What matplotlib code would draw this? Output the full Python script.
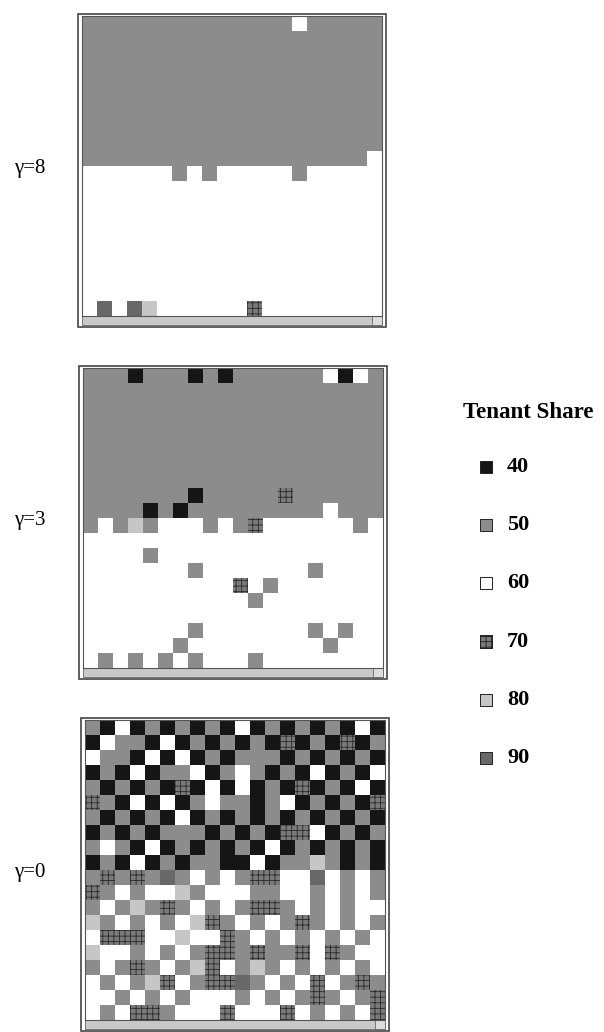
import numpy as np
import matplotlib.pyplot as plt
from matplotlib.colors import ListedColormap, BoundaryNorm
from matplotlib.patches import Rectangle

# tenant share categories and their legend colours
shares = [40, 50, 60, 70, 80, 90]
share_colors = ['#151515', '#8c8c8c', '#ffffff', '#7a7a7a', '#c6c6c6', '#686868']

# each string is one row of a 20x20 grid, digit = tenant share / 10
grid_g8 = [
    "55555555555555655555",
    "55555555555555555555",
    "55555555555555555555",
    "55555555555555555555",
    "55555555555555555555",
    "55555555555555555555",
    "55555555555555555555",
    "55555555555555555555",
    "55555555555555555555",
    "55555555555555555556",
    "66666656566666566666",
    "66666666666666666666",
    "66666666666666666666",
    "66666666666666666666",
    "66666666666666666666",
    "66666666666666666666",
    "66666666666666666666",
    "66666666666666666666",
    "66666666666666666666",
    "69698666666766666666",
]

grid_g3 = [
    "55545554545555556465",
    "55555555555555555555",
    "55555555555555555555",
    "55555555555555555555",
    "55555555555555555555",
    "55555555555555555555",
    "55555555555555555555",
    "55555555555555555555",
    "55555554555557555555",
    "55554545555555556555",
    "56585666565766666656",
    "66666666666666666666",
    "66665666666666666666",
    "66666665666666656666",
    "66666666667656666666",
    "66666666666566666666",
    "66666666666666666666",
    "66666665666666656566",
    "66666656666666665666",
    "65656565666566666666",
]

grid_g0 = [
    "54645454546454545464",
    "46554645454547454745",
    "65546464545554545454",
    "45464556456545464546",
    "54545474646454745464",
    "75464645655456454547",
    "54545464545454545454",
    "45454555454547764545",
    "56546454545464545454",
    "45464545544645585454",
    "57575956565776696565",
    "75656685666556656565",
    "56585756565775656566",
    "85656568756565756565",
    "67776686675656565656",
    "86656565775755767566",
    "56575658765856565656",
    "65658765779565676575",
    "66565656665656575657",
    "65677566676667656567",
]

panels = [("\u03b3=8", grid_g8, 82, 16), ("\u03b3=3", grid_g3, 83, 368), ("\u03b3=0", grid_g0, 85, 720)]

W, H = 604, 1032
fig = plt.figure(figsize=(W / 100, H / 100), dpi=100)
cmap = ListedColormap(share_colors)
norm = BoundaryNorm([35, 45, 55, 65, 75, 85, 95], cmap.N)
plt.rcParams['hatch.color'] = '#2a2a2a'
plt.rcParams['hatch.linewidth'] = 0.6

size = 300
for label, rows, left, top in panels:
    vals = np.array([[int(c) * 10 for c in r] for r in rows])
    ax = fig.add_axes([left / W, 1 - (top + size) / H, size / W, size / H])
    ax.pcolormesh(np.arange(21), np.arange(21), vals, cmap=cmap, norm=norm)
    hatched = np.ma.masked_where(vals != 70, vals)
    ax.pcolor(np.arange(21), np.arange(21), hatched, hatch='+++',
              facecolor='none', edgecolor='#2a2a2a', linewidth=0)
    ax.set_xlim(0, 20)
    ax.set_ylim(20, 0)
    ax.set_xticks([])
    ax.set_yticks([])
    for s in ax.spines.values():
        s.set_linewidth(0.8)
        s.set_color('#555555')
    # window frame and bottom scroll strip
    px = 20 / size
    ax.add_patch(Rectangle((0, 20), 20, 9 * px, facecolor='#c9c9c9',
                           edgecolor='#666666', lw=0.6, clip_on=False))
    ax.add_patch(Rectangle((20 - 10 * px, 20), 10 * px, 9 * px, facecolor='#dddddd',
                           edgecolor='#666666', lw=0.6, clip_on=False))
    ax.add_patch(Rectangle((-4 * px, -2 * px), 20 + 8 * px, 20 + 13 * px, facecolor='none',
                           edgecolor='#444444', lw=1.2, clip_on=False))
    fig.text(30 / W, 1 - (top + 152) / H, label, fontsize=15,
             family='Liberation Serif', ha='center', va='center')

# legend
lax = fig.add_axes([0, 0, 1, 1], facecolor='none')
lax.set_xlim(0, W)
lax.set_ylim(H, 0)
lax.axis('off')
lax.text(528, 412, "Tenant Share", fontsize=16.5, fontweight='bold',
         family='Liberation Serif', ha='center', va='center')
for i, (v, c) in enumerate(zip(shares, share_colors)):
    y = 467 + i * 58.2
    lax.scatter([486], [y], s=85, marker='s', color=c, edgecolors='#222222', linewidths=0.7)
    if v == 70:
        lax.scatter([486], [y], s=85, marker='s', facecolors='none', edgecolors='#222222',
                    hatch='+++', linewidths=0.7)
    lax.text(507, y, str(v), fontsize=16, fontweight='bold', family='Liberation Serif',
             ha='left', va='center')

fig.savefig('out.png', dpi=100)
